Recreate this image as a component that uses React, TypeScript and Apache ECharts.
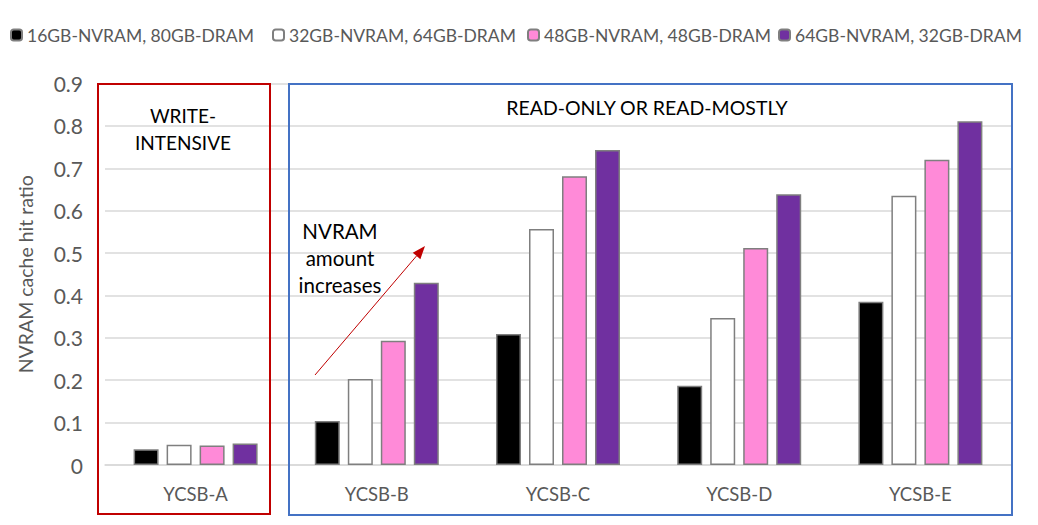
import React, { useEffect, useRef } from "react";
import * as echarts from "echarts";

const categories = ["YCSB-A", "YCSB-B", "YCSB-C", "YCSB-D", "YCSB-E"];
const seriesNames = [
  "16GB-NVRAM, 80GB-DRAM",
  "32GB-NVRAM, 64GB-DRAM",
  "48GB-NVRAM, 48GB-DRAM",
  "64GB-NVRAM, 32GB-DRAM",
];
const nv16 = [0.037, 0.104, 0.309, 0.187, 0.385];
const nv32 = [0.048, 0.203, 0.557, 0.347, 0.635];
const nv48 = [0.046, 0.293, 0.681, 0.512, 0.72];
const nv64 = [0.051, 0.43, 0.743, 0.639, 0.811];
const seriesValues = [nv16, nv32, nv48, nv64];
const seriesColors = ["#000000", "#ffffff", "#ff8ad8", "#7030a0"];
const legendLefts = [10, 272, 527, 778];

const FONT = "Lato, 'Noto Sans', sans-serif";
const GREY = "#595959";

export default function App() {
  const ref = useRef<HTMLDivElement>(null);
  useEffect(() => {
    if (!ref.current) return;
    const chart = echarts.init(ref.current, undefined, { renderer: "svg" });
    const tip = [425, 246];
    const dir = [0.649, -0.761];
    const perp = [0.761, 0.649];
    const hl = 13;
    const hw = 5;
    const base = [tip[0] - hl * dir[0], tip[1] - hl * dir[1]];
    chart.setOption({
      animation: false,
      textStyle: { fontFamily: FONT },
      legend: seriesNames.map((n, i) => ({
        data: [n],
        left: legendLefts[i],
        top: 26,
        padding: 0,
        itemWidth: 11,
        itemHeight: 11,
        itemGap: 6,
        textStyle: { fontSize: 17.5, color: GREY, fontFamily: FONT },
      })),
      grid: { left: 105, right: 27, top: 83.5, bottom: 60 },
      xAxis: {
        type: "category",
        data: categories,
        axisTick: { show: false },
        axisLine: { lineStyle: { color: "#d9d9d9", width: 1.5 } },
        axisLabel: { fontSize: 18.5, color: GREY, margin: 19, fontFamily: FONT },
      },
      yAxis: {
        type: "value",
        min: 0,
        max: 0.9,
        interval: 0.1,
        name: "NVRAM cache hit ratio",
        nameLocation: "middle",
        nameGap: 70,
        nameTextStyle: { fontSize: 19.5, color: GREY, fontFamily: FONT },
        axisLabel: {
          fontSize: 21,
          color: GREY,
          margin: 22,
          fontFamily: FONT,
          formatter: (v: number) => (v === 0 ? "0" : String(Math.round(v * 10) / 10)),
        },
        splitLine: { lineStyle: { color: "#d9d9d9", width: 1.5 } },
      },
      series: seriesNames.map((n, i) => ({
        name: n,
        type: "bar",
        data: seriesValues[i],
        barWidth: 25,
        barGap: "32%",
        itemStyle: { color: seriesColors[i], borderColor: "#7f7f7f", borderWidth: 1.5 },
      })),
      graphic: [
        {
          type: "rect",
          shape: { x: 98, y: 84, width: 172, height: 430 },
          style: { fill: "none", stroke: "#c00000", lineWidth: 2 },
          z: 100,
        },
        {
          type: "rect",
          shape: { x: 289, y: 84, width: 723, height: 431 },
          style: { fill: "none", stroke: "#4472c4", lineWidth: 2 },
          z: 100,
        },
        {
          type: "text",
          x: 183,
          y: 129,
          style: {
            text: "WRITE-\nINTENSIVE",
            fontSize: 19,
            fontFamily: FONT,
            fill: "#000000",
            align: "center",
            verticalAlign: "middle",
            lineHeight: 27,
          },
          z: 100,
        },
        {
          type: "text",
          x: 647,
          y: 107,
          style: {
            text: "READ-ONLY OR READ-MOSTLY",
            fontSize: 19.5,
            fontFamily: FONT,
            fill: "#000000",
            align: "center",
            verticalAlign: "middle",
          },
          z: 100,
        },
        {
          type: "text",
          x: 340,
          y: 258,
          style: {
            text: "NVRAM\namount\nincreases",
            fontSize: 20.5,
            fontFamily: FONT,
            fill: "#000000",
            align: "center",
            verticalAlign: "middle",
            lineHeight: 27,
          },
          z: 100,
        },
        {
          type: "line",
          shape: { x1: 315, y1: 375, x2: base[0], y2: base[1] },
          style: { stroke: "#c00000", lineWidth: 1 },
          z: 100,
        },
        {
          type: "polygon",
          shape: {
            points: [
              [tip[0], tip[1]],
              [base[0] + hw * perp[0], base[1] + hw * perp[1]],
              [base[0] - hw * perp[0], base[1] - hw * perp[1]],
            ],
          },
          style: { fill: "#c00000" },
          z: 100,
        },
      ],
    });
    return () => chart.dispose();
  }, []);
  return (
    <div
      ref={ref}
      style={{ position: "fixed", left: 0, top: 0, width: 1038, height: 525, background: "#ffffff" }}
    />
  );
}
